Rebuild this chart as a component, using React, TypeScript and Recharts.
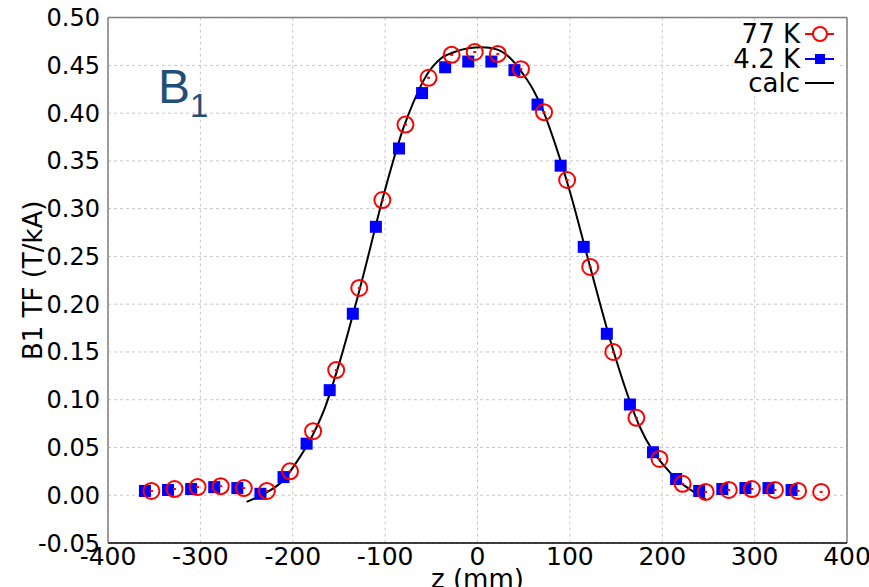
import {
  ComposedChart,
  Scatter,
  Line,
  XAxis,
  YAxis,
  CartesianGrid,
  ReferenceLine,
  Customized,
} from 'recharts'

// 77 K measurement
const z77 = [-353, -328, -303, -278, -253, -228, -203, -178, -153, -128, -103, -78, -53, -28, -3, 22, 47, 72, 97, 122, 147, 172, 197, 222, 247, 272, 297, 322, 347, 372]
const tf77 = [0.0045, 0.0065, 0.0085, 0.0095, 0.0075, 0.0045, 0.025, 0.067, 0.131, 0.217, 0.309, 0.388, 0.437, 0.461, 0.464, 0.462, 0.446, 0.401, 0.33, 0.239, 0.15, 0.081, 0.038, 0.012, 0.0035, 0.0055, 0.0065, 0.0055, 0.0045, 0.0035]

// 4.2 K measurement
const z42 = [-360, -335, -310, -285, -260, -235, -210, -185, -160, -135, -110, -85, -60, -35, -10, 15, 40, 65, 90, 115, 140, 165, 190, 215, 240, 265, 290, 315, 340]
const tf42 = [0.0045, 0.0055, 0.0065, 0.0085, 0.0075, 0.0015, 0.019, 0.054, 0.11, 0.19, 0.281, 0.363, 0.421, 0.448, 0.454, 0.454, 0.445, 0.409, 0.345, 0.26, 0.169, 0.095, 0.045, 0.017, 0.0045, 0.0065, 0.0075, 0.0075, 0.0055]

// calculation
const zCalc = [-250, -230, -210, -195, -180, -165, -150, -125, -100, -80, -70, -55, -40, -25, -10, 5, 20, 35, 50, 60, 70, 85, 100, 120, 145, 160, 175, 190, 200, 220, 235, 247]
const tfCalc = [-0.007, 0.002, 0.016, 0.036, 0.06, 0.092, 0.137, 0.225, 0.32, 0.385, 0.41, 0.44, 0.457, 0.464, 0.468, 0.469, 0.467, 0.458, 0.44, 0.425, 0.405, 0.365, 0.318, 0.246, 0.158, 0.112, 0.073, 0.046, 0.033, 0.013, 0.003, -0.004]

const xTicks = [-400, -300, -200, -100, 0, 100, 200, 300, 400]
const yTicks = [-0.05, 0, 0.05, 0.1, 0.15, 0.2, 0.25, 0.3, 0.35, 0.4, 0.45, 0.5]

const data77 = z77.map((z, i) => ({ z, v: tf77[i] }))
const data42 = z42.map((z, i) => ({ z, v: tf42[i] }))
const dataCalc = zCalc.map((z, i) => ({ z, v: tfCalc[i] }))

const FONT = 'DejaVu Sans'

const CircleMark = (props: any) => {
  const { cx, cy } = props
  if (cx == null || cy == null) return null
  return (
    <g>
      <circle cx={cx} cy={cy} r={8} fill="none" stroke="#ff0000" strokeWidth={2} />
      <rect x={cx - 1.5} y={cy - 1} width={3} height={2} fill="#ff0000" />
    </g>
  )
}

const SquareMark = (props: any) => {
  const { cx, cy } = props
  if (cx == null || cy == null) return null
  return <rect x={cx - 6} y={cy - 6} width={12} height={12} fill="#0000ff" />
}

const legendRows = [
  { name: '77 K', kind: 'circle' },
  { name: '4.2 K', kind: 'square' },
  { name: 'calc', kind: 'line' },
]

// legend drawn as an overlay so it does not take space from the plot
function ChartLegend() {
  return (
    <div
      style={{
        position: 'absolute',
        right: 32,
        top: 22,
        display: 'flex',
        flexDirection: 'column',
        alignItems: 'flex-end',
      }}
    >
      {legendRows.map(row => (
        <div
          key={row.name}
          style={{
            display: 'flex',
            alignItems: 'center',
            height: 24.5,
            background: '#fff',
            fontFamily: FONT,
            fontSize: 26,
            lineHeight: '24px',
            color: '#000',
          }}
        >
          <span>{row.name}</span>
          <svg width={34} height={24} style={{ marginLeft: 3 }}>
            <line
              x1={2}
              y1={12}
              x2={31}
              y2={12}
              stroke={row.kind === 'circle' ? '#ff0000' : row.kind === 'square' ? '#0000ff' : '#000'}
              strokeWidth={2}
            />
            {row.kind === 'circle' && <circle cx={17} cy={12} r={7} fill="#fff" stroke="#ff0000" strokeWidth={2} />}
            {row.kind === 'square' && <rect x={12} y={7} width={10} height={10} fill="#0000ff" />}
          </svg>
        </div>
      ))}
    </div>
  )
}

export default function App() {
  return (
    <div style={{ position: 'absolute', left: 0, top: 0, width: 869, height: 587, background: '#fff' }}>
      <ComposedChart width={869} height={587} margin={{ top: 17.6, right: 22, left: 0, bottom: 0 }}>
        <CartesianGrid stroke="#c8c8c8" strokeDasharray="3 3" />
        <XAxis
          dataKey="z"
          type="number"
          domain={[-400, 400]}
          ticks={xTicks}
          allowDataOverflow
          height={44}
          tickSize={0}
          tickMargin={4}
          tickLine={false}
          axisLine={{ stroke: '#000', strokeWidth: 1.5 }}
          tick={{ fill: '#000', fontSize: 25, fontFamily: FONT }}
          label={{
            content: ({ viewBox }: any) => (
              <text
                x={viewBox.x + viewBox.width / 2}
                y={588}
                textAnchor="middle"
                fontFamily={FONT}
                fontSize={26}
                fill="#000"
              >
                z (mm)
              </text>
            ),
          }}
        />
        <YAxis
          type="number"
          domain={[-0.05, 0.5]}
          ticks={yTicks}
          allowDataOverflow
          width={108}
          tickSize={0}
          tickMargin={8}
          tickLine={false}
          tickFormatter={(v: number) => v.toFixed(2)}
          axisLine={{ stroke: '#808080', strokeWidth: 1.5 }}
          tick={{ fill: '#000', fontSize: 24, fontFamily: FONT }}
          label={{
            content: ({ viewBox }: any) => {
              const cy = viewBox.y + viewBox.height / 2
              return (
                <text
                  x={42}
                  y={cy}
                  transform={`rotate(-90, 42, ${cy})`}
                  textAnchor="middle"
                  fontFamily={FONT}
                  fontSize={26}
                  fill="#000"
                >
                  B1 TF (T/kA)
                </text>
              )
            },
          }}
        />
        <ReferenceLine y={0.5} stroke="#808080" strokeWidth={1.5} />
        <ReferenceLine x={400} stroke="#808080" strokeWidth={1.5} />
        <Scatter name="4.2 K" data={data42} dataKey="v" shape={SquareMark} isAnimationActive={false} />
        <Scatter name="77 K" data={data77} dataKey="v" shape={CircleMark} isAnimationActive={false} />
        <Line
          name="calc"
          data={dataCalc}
          dataKey="v"
          type="monotone"
          stroke="#000"
          strokeWidth={2}
          dot={false}
          activeDot={false}
          isAnimationActive={false}
        />
        <Customized
          component={() => (
            <text x={158} y={103} fontFamily="Liberation Sans" fontSize={48} fill="#1f4e79">
              B
              <tspan fontSize={33} dy={14}>
                1
              </tspan>
            </text>
          )}
        />
      </ComposedChart>
      <ChartLegend />
    </div>
  )
}
